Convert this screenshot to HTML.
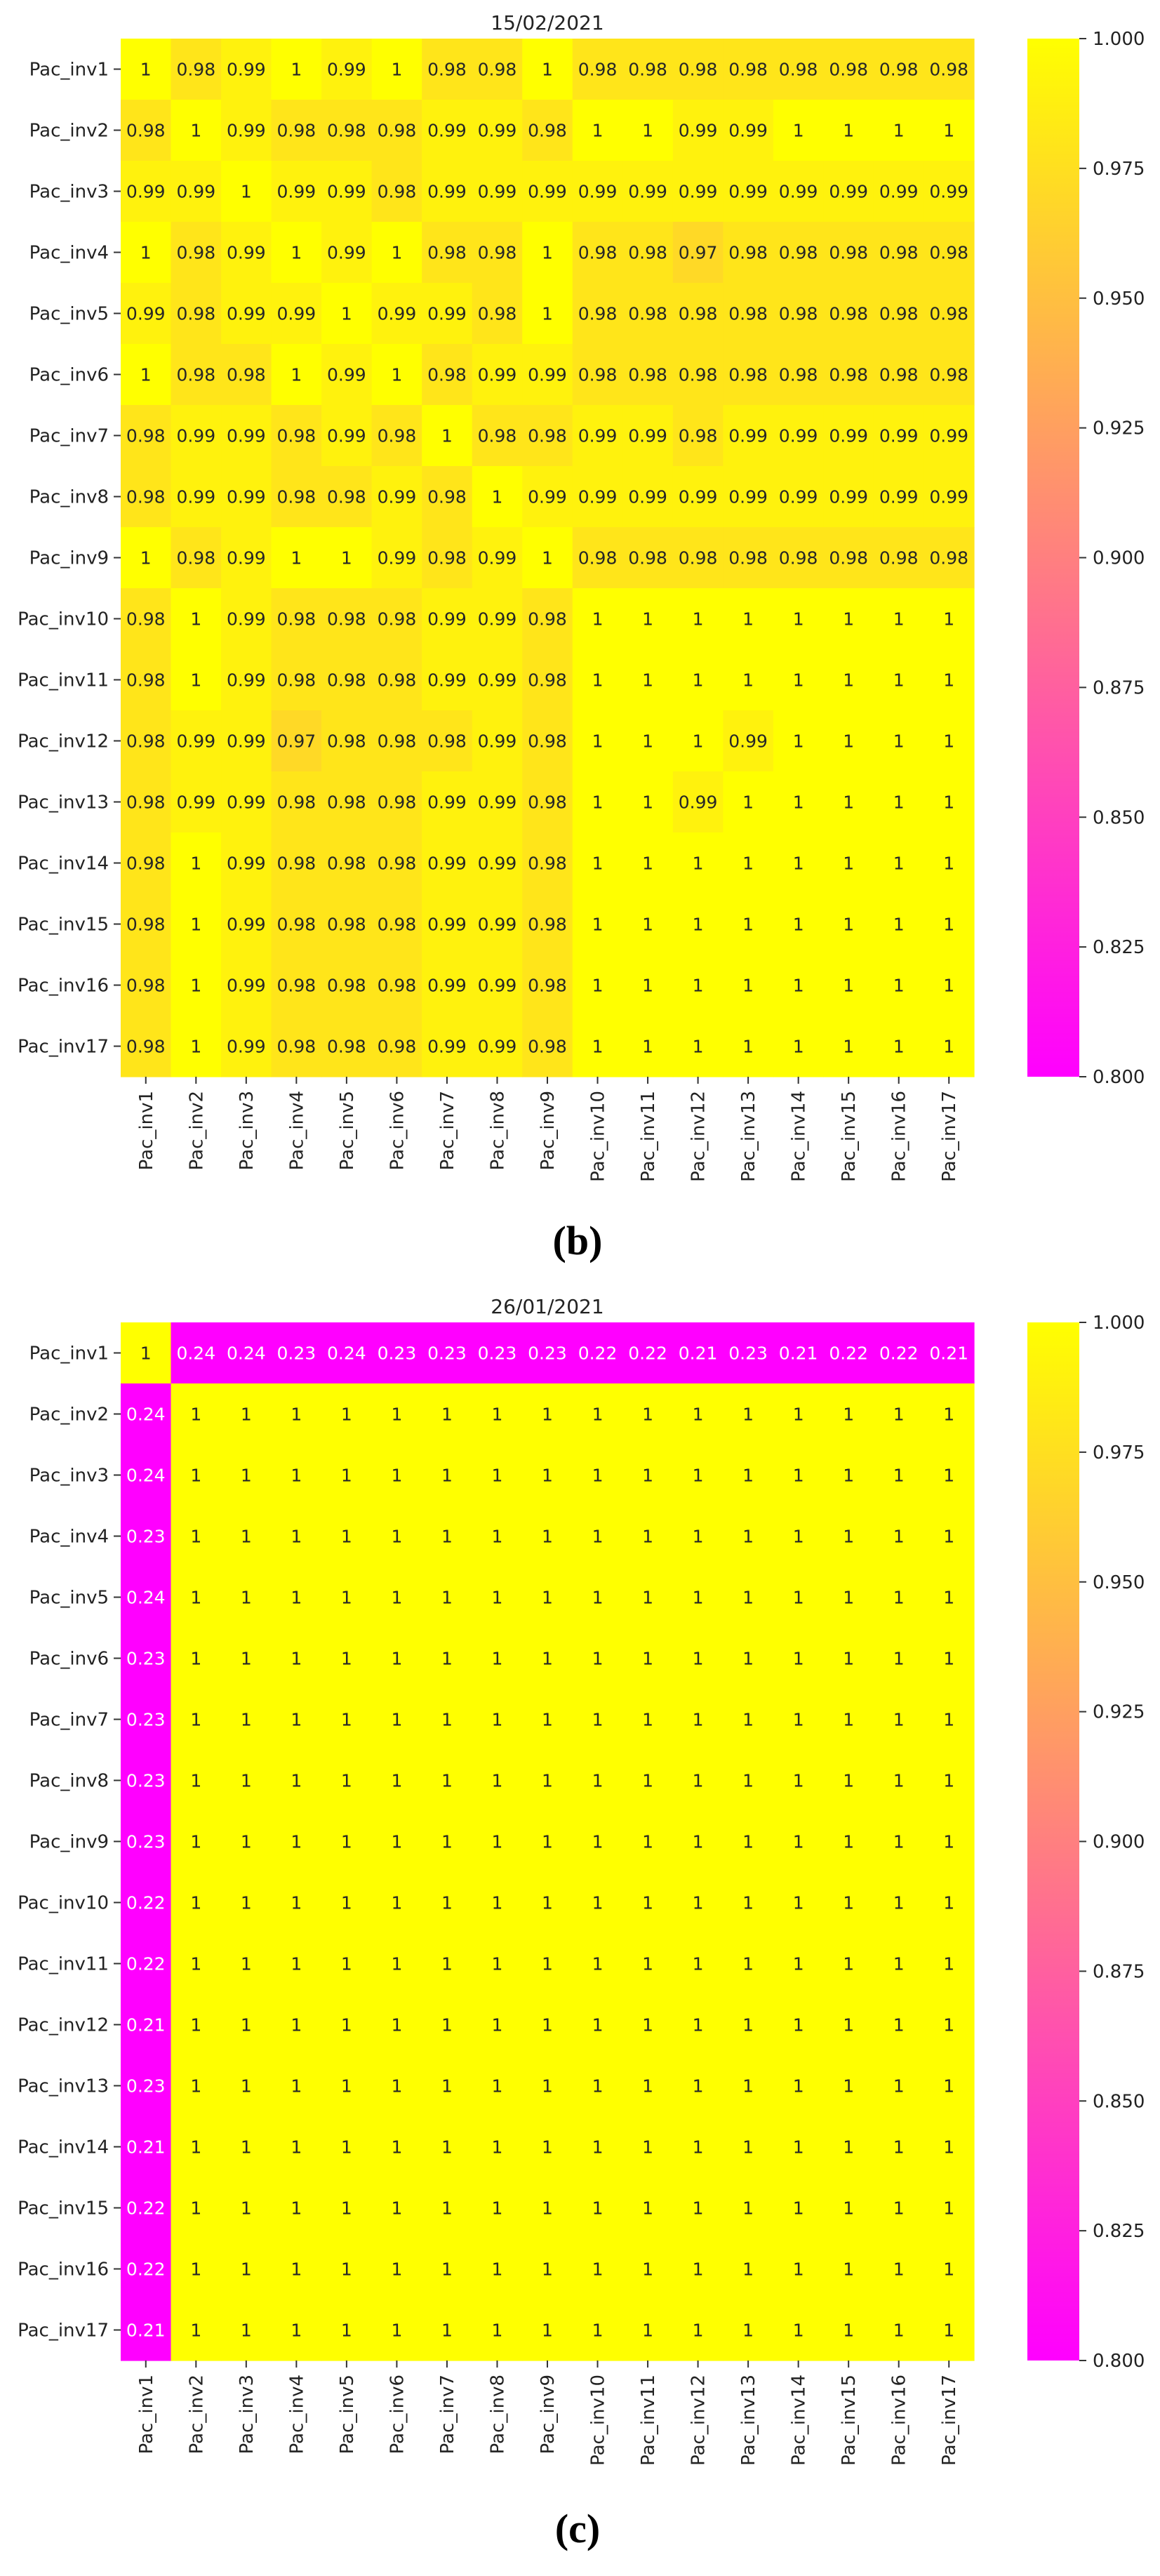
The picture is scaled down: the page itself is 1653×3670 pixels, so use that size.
<!DOCTYPE html>
<html><head><meta charset="utf-8"><style>
html,body{margin:0;padding:0;background:#fff;}
svg{display:block;font-family:"DejaVu Sans","Liberation Sans",sans-serif;}
</style></head><body>
<svg id="fig" width="1653" height="3670" viewBox="0 0 1653 3670" xmlns="http://www.w3.org/2000/svg"></svg>
<script>
const labels = ["Pac_inv1","Pac_inv2","Pac_inv3","Pac_inv4","Pac_inv5","Pac_inv6","Pac_inv7","Pac_inv8","Pac_inv9","Pac_inv10","Pac_inv11","Pac_inv12","Pac_inv13","Pac_inv14","Pac_inv15","Pac_inv16","Pac_inv17"];
const cbTicks = [1.000,0.975,0.950,0.925,0.900,0.875,0.850,0.825,0.800];
const cbTickLabels = ["1.000","0.975","0.950","0.925","0.900","0.875","0.850","0.825","0.800"];
const titleB = "15/02/2021";
const titleC = "26/01/2021";
const rowAB = [
[1,.98,.99,1,.99,1,.98,.98,1,.98,.98,.98,.98,.98,.98,.98,.98],
[.98,1,.99,.98,.98,.98,.99,.99,.98,1,1,.99,.99,1,1,1,1],
[.99,.99,1,.99,.99,.98,.99,.99,.99,.99,.99,.99,.99,.99,.99,.99,.99],
[1,.98,.99,1,.99,1,.98,.98,1,.98,.98,.97,.98,.98,.98,.98,.98],
[.99,.98,.99,.99,1,.99,.99,.98,1,.98,.98,.98,.98,.98,.98,.98,.98],
[1,.98,.98,1,.99,1,.98,.99,.99,.98,.98,.98,.98,.98,.98,.98,.98],
[.98,.99,.99,.98,.99,.98,1,.98,.98,.99,.99,.98,.99,.99,.99,.99,.99],
[.98,.99,.99,.98,.98,.99,.98,1,.99,.99,.99,.99,.99,.99,.99,.99,.99],
[1,.98,.99,1,1,.99,.98,.99,1,.98,.98,.98,.98,.98,.98,.98,.98],
[.98,1,.99,.98,.98,.98,.99,.99,.98,1,1,1,1,1,1,1,1],
[.98,1,.99,.98,.98,.98,.99,.99,.98,1,1,1,1,1,1,1,1],
[.98,.99,.99,.97,.98,.98,.98,.99,.98,1,1,1,.99,1,1,1,1],
[.98,.99,.99,.98,.98,.98,.99,.99,.98,1,1,.99,1,1,1,1,1],
[.98,1,.99,.98,.98,.98,.99,.99,.98,1,1,1,1,1,1,1,1],
[.98,1,.99,.98,.98,.98,.99,.99,.98,1,1,1,1,1,1,1,1],
[.98,1,.99,.98,.98,.98,.99,.99,.98,1,1,1,1,1,1,1,1],
[.98,1,.99,.98,.98,.98,.99,.99,.98,1,1,1,1,1,1,1,1]];
const inv1C = [1,.24,.24,.23,.24,.23,.23,.23,.23,.22,.22,.21,.23,.21,.22,.22,.21];

const matC = labels.map((_,i)=>labels.map((_,j)=> i===0 ? inv1C[j] : (j===0 ? inv1C[i] : 1)));

const NS="http://www.w3.org/2000/svg";
const svg=document.getElementById('fig');
function el(tag,attrs,parent){const e=document.createElementNS(NS,tag);for(const k in attrs)e.setAttribute(k,attrs[k]);(parent||svg).appendChild(e);return e;}
function color(v){let t=(v-0.8)/0.2;t=Math.max(0,Math.min(1,t));return `rgb(255,${Math.round(255*t)},${Math.round(255*(1-t))})`;}
function fmt(v){return v===1?"1":String(v).replace(/^0?\./,"0.");}

const X0=172, X1=1388, CW=(X1-X0)/17, CB0=1464, CB1=1538;

function drawHeat(mat, top, title, tag){
  const bottom=top+17*87, CH=(bottom-top)/17;
  const xs=j=>X0+j*CW, ys=i=>top+i*CH;
  const g=el('g',{});
  
  
  const t=el('text',{x:(X0+X1)/2,y:top-13,'font-size':28,'text-anchor':'middle',fill:'#222'},g);
  t.textContent=title;
  
  
  mat.forEach((row,i)=>row.forEach((v,j)=>{
    const r=el('rect',{x:xs(j),y:ys(i),width:CW+0.6,height:CH+0.6,fill:color(v)},g);
    
    
    const tx=el('text',{x:xs(j)+CW/2,y:ys(i)+CH/2+9,'font-size':25,'text-anchor':'middle',fill:v<0.9?'#fff':'#262626'},g);
    tx.textContent=fmt(v);
    
    
  }));
  labels.forEach((lb,i)=>{
    const y=ys(i)+CH/2;
    el('line',{x1:X0-10,x2:X0,y1:y,y2:y,stroke:'#333','stroke-width':2},g);
    const t=el('text',{x:X0-17,y:y+9,'font-size':26,'text-anchor':'end',fill:'#222'},g);
    t.textContent=lb;
    
    
  });
  labels.forEach((lb,j)=>{
    const x=xs(j)+CW/2;
    el('line',{x1:x,x2:x,y1:bottom,y2:bottom+10,stroke:'#333','stroke-width':2},g);
    const t=el('text',{x:0,y:0,'font-size':26,'text-anchor':'end',fill:'#222',transform:`translate(${x+9},${bottom+20}) rotate(-90)`},g);
    t.textContent=lb;
    
    
  });
  // colorbar
  const defs=el('defs',{},g);
  const gr=el('linearGradient',{id:'cg'+tag,x1:0,y1:1,x2:0,y2:0},defs);
  el('stop',{offset:0,'stop-color':color(0.8)},gr);
  el('stop',{offset:1,'stop-color':color(1)},gr);
  const cb=el('rect',{x:CB0,y:top,width:CB1-CB0,height:bottom-top,fill:`url(#cg${tag})`},g);
  
  
  const cy=v=>bottom-(v-0.8)/0.2*(bottom-top);
  cbTicks.forEach((v,k)=>{
    const y=cy(v);
    el('line',{x1:CB1,x2:CB1+10,y1:y,y2:y,stroke:'#333','stroke-width':2},g);
    const t=el('text',{x:CB1+19,y:y+9,'font-size':26,fill:'#222'},g);
    t.textContent=cbTickLabels[k];
    
    
  });
}
drawHeat(rowAB,55,titleB,'b');
drawHeat(matC,1884,titleC,'c');
function panel(txt,y){
  const t=el('text',{x:823,y:y,'font-size':58,'font-weight':'bold','text-anchor':'middle','font-family':'"Liberation Serif",serif',fill:'#000'});
  t.textContent=txt;
  
  
}
panel("(b)",1787);
panel("(c)",3622);
</script>
</body></html>
